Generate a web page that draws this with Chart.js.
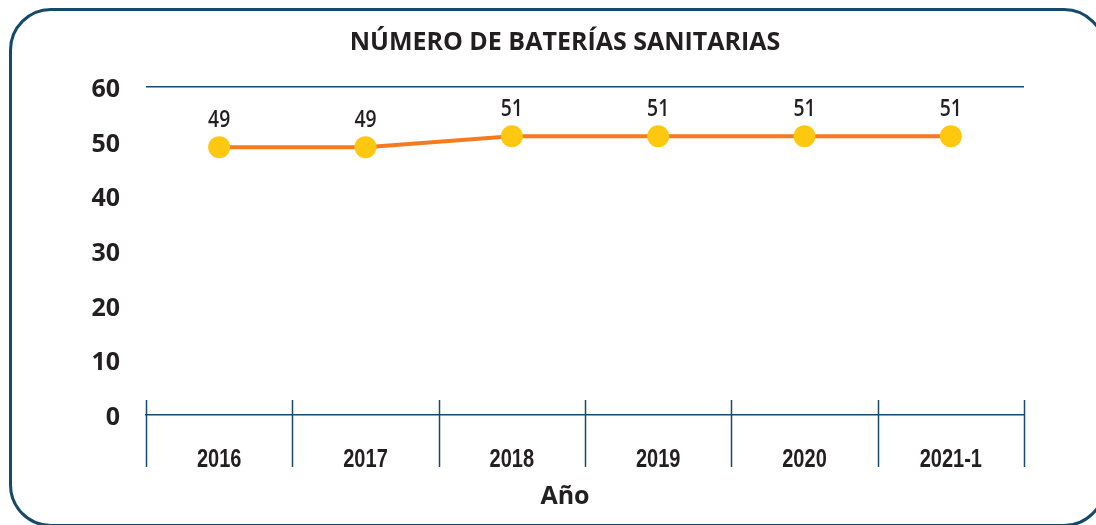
<!DOCTYPE html>
<html>
<head>
<meta charset="utf-8">
<script src="https://cdn.jsdelivr.net/npm/chart.js@4.4.1/dist/chart.umd.min.js"></script>
<style>
  html, body { margin: 0; padding: 0; background: #fff; overflow: hidden; }
  #wrap { position: relative; width: 1096px; height: 525px; overflow: hidden; }
  #box { position: absolute; left: 9px; top: 8px; width: 1097px; height: 519px;
         border: 3px solid #17496b; border-radius: 42px; box-sizing: border-box; }
  #cv { position: absolute; left: 0; top: 0; }
</style>
</head>
<body>
<div id="wrap">
  <div id="box"></div>
  <canvas id="cv" width="1130" height="525"></canvas>
</div>
<script>
var years = ["2016", "2017", "2018", "2019", "2020", "2021-1"];
var baterias = [49, 49, 51, 51, 51, 51];
var yTicks = [0, 10, 20, 30, 40, 50, 60];

var navy = "#17496b";
var ink = "#231f20";

// narrow text: the original uses a condensed face, squeeze a normal one
function narrowText(ctx, text, x, y, sx) {
  ctx.save();
  ctx.translate(x, y);
  ctx.scale(sx, 1);
  ctx.fillText(text, 0, 0);
  ctx.restore();
}

// year separators, year labels and the axis title
var xAxisDecor = {
  id: "xAxisDecor",
  afterDraw: function (chart) {
    var x = chart.scales.x, area = chart.chartArea, ctx = chart.ctx;
    ctx.save();
    ctx.strokeStyle = navy;
    ctx.lineWidth = 1.5;
    for (var i = 0; i <= years.length; i++) {
      var px = Math.round(x.getPixelForValue(i - 0.5)) + 0.5;
      ctx.beginPath();
      ctx.moveTo(px, area.bottom - 15);
      ctx.lineTo(px, area.bottom + 52);
      ctx.stroke();
    }
    ctx.fillStyle = ink;
    ctx.textAlign = "center";
    ctx.textBaseline = "middle";
    ctx.font = "bold 26px 'Liberation Sans', sans-serif";
    years.forEach(function (y, i) {
      narrowText(ctx, y, x.getPixelForValue(i), area.bottom + 45, 0.77);
    });
    ctx.font = "bold 25px 'Open Sans', sans-serif";
    ctx.fillText("Año", chart.width / 2, area.bottom + 82);
    ctx.restore();
  }
};

// value above each point
var valueLabels = {
  id: "valueLabels",
  afterDatasetsDraw: function (chart) {
    var ctx = chart.ctx;
    var meta = chart.getDatasetMeta(0);
    ctx.save();
    ctx.font = "600 23px 'Open Sans', sans-serif";
    ctx.fillStyle = ink;
    ctx.textAlign = "center";
    ctx.textBaseline = "middle";
    meta.data.forEach(function (pt, i) {
      narrowText(ctx, String(baterias[i]), pt.x, pt.y - 27, 0.84);
    });
    ctx.restore();
  }
};

new Chart("cv", {
  type: "line",
  data: {
    labels: years,
    datasets: [{
      data: baterias,
      borderColor: "#f47b20",
      borderWidth: 4,
      pointBackgroundColor: "#fdc80f",
      pointBorderWidth: 0,
      pointRadius: 11,
      tension: 0
    }]
  },
  plugins: [xAxisDecor, valueLabels],
  options: {
    responsive: false,
    animation: false,
    layout: { padding: 0 },
    plugins: {
      legend: { display: false },
      tooltip: { enabled: false },
      title: {
        display: true,
        text: "NÚMERO DE BATERÍAS SANITARIAS",
        color: ink,
        font: { family: "'Open Sans', sans-serif", size: 25, weight: "bold", lineHeight: 1.2 },
        padding: { top: 28, bottom: 29 }
      }
    },
    scales: {
      x: {
        offset: true,
        afterFit: function (s) { s.height = 110; },
        grid: { display: false },
        border: { display: true, color: navy, width: 1.5 },
        ticks: { display: false }
      },
      y: {
        min: 0,
        max: 60,
        afterFit: function (s) { s.width = 146; },
        afterBuildTicks: function (s) { s.ticks = yTicks.map(function (v) { return { value: v }; }); },
        grid: {
          drawTicks: false,
          lineWidth: 1.5,
          color: function (c) { return c.tick && c.tick.value === 60 ? navy : "rgba(0,0,0,0)"; }
        },
        border: { display: false },
        ticks: { color: ink, padding: 26, labelOffset: 3, font: { family: "'Open Sans', sans-serif", size: 25, weight: "bold" } }
      },
      yRight: {
        position: "right",
        display: true,
        afterFit: function (s) { s.width = 106; },
        grid: { display: false },
        border: { display: false },
        ticks: { display: false }
      }
    }
  }
});
</script>
</body>
</html>
